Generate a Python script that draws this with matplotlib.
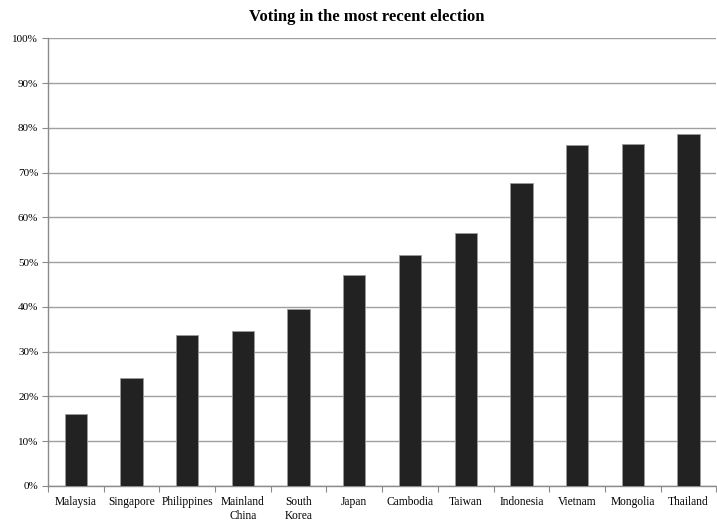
import matplotlib
matplotlib.use('Agg')
import matplotlib.pyplot as plt
import numpy as np
from matplotlib.ticker import FixedLocator, PercentFormatter

countries = ['Malaysia', 'Singapore', 'Philippines', 'Mainland\nChina', 'South\nKorea',
             'Japan', 'Cambodia', 'Taiwan', 'Indonesia', 'Vietnam', 'Mongolia', 'Thailand']
voting_pct = [16.1, 24.1, 33.8, 34.7, 39.5, 47.1, 51.5, 56.4, 67.6, 76.1, 76.4, 78.6]
y_ticks = [0, 10, 20, 30, 40, 50, 60, 70, 80, 90, 100]

plt.rcParams['font.family'] = ['Liberation Serif', 'DejaVu Serif']

fig = plt.figure(figsize=(7.17, 5.22), dpi=100)
ax = fig.add_axes([0.067, 0.069, 0.932, 0.8577])

x = np.arange(len(countries))
ax.bar(x, voting_pct, width=0.4, color='#222222', edgecolor='#9a9a9a',
       linewidth=0.6, zorder=3)

ax.set_xlim(-0.5, len(countries) - 0.5)
ax.set_ylim(0, 100)
ax.set_yticks(y_ticks)
ax.yaxis.set_major_formatter(PercentFormatter(decimals=0))
ax.grid(axis='y', color='#a0a0a0', lw=1.0, zorder=0)

ax.set_xticks(x)
ax.set_xticklabels(countries, fontsize=8.3, linespacing=1.3)
ax.xaxis.set_minor_locator(FixedLocator(np.arange(-0.5, len(countries), 1.0)))
ax.tick_params(axis='x', which='major', length=0, pad=7)
ax.tick_params(axis='x', which='minor', length=4, color='#8a8a8a', width=0.8)
ax.tick_params(axis='y', length=4, color='#8a8a8a', width=0.8, labelsize=8, pad=3)

for s in ['top', 'right']:
    ax.spines[s].set_visible(False)
for s in ['left', 'bottom']:
    ax.spines[s].set_color('#8a8a8a')
    ax.spines[s].set_linewidth(1.0)

fig.text(0.511, 0.968, 'Voting in the most recent election', ha='center', va='center',
         fontsize=12, fontweight='bold')

fig.savefig('out.png', dpi=100)
